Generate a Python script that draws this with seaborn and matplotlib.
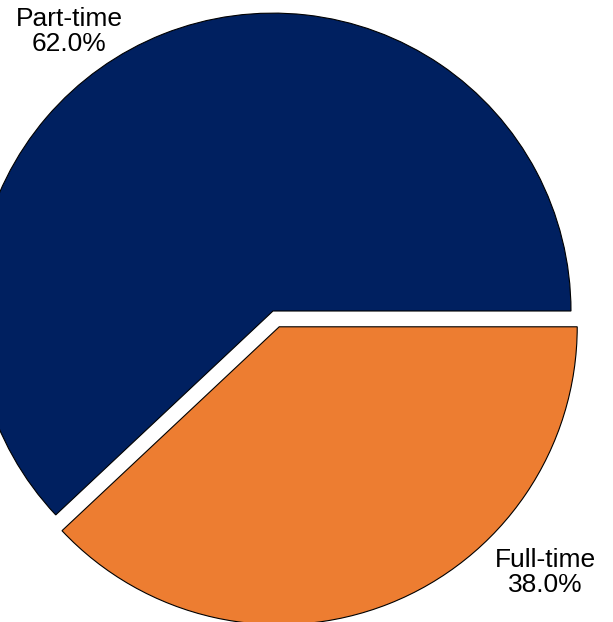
import matplotlib
matplotlib.use("Agg")
import matplotlib.pyplot as plt
import seaborn as sns

# Employment split
categories = ["Part-time", "Full-time"]
shares = [62.0, 38.0]
colors = ["#002060", "#ED7D31"]
explode = [0.0, 0.057]

sns.set_theme(style="white")
plt.rcParams["font.family"] = ["Liberation Sans", "DejaVu Sans"]

fig = plt.figure(figsize=(6.13, 6.22), dpi=100)
ax = fig.add_axes([0, 0, 1, 1])

wedges, _ = ax.pie(
    shares,
    colors=colors,
    explode=explode,
    startangle=0,
    counterclock=True,
    wedgeprops=dict(edgecolor="black", linewidth=0.8),
)

ax.set_xlim(-0.916, 1.141)
ax.set_ylim(-1.044, 1.044)
ax.set_aspect("auto")
ax.axis("off")

# Category labels with percentages
label_pos = [(-0.683, 0.938), (0.913, -0.878)]
for name, val, (x, y) in zip(categories, shares, label_pos):
    ax.text(x, y, f"{name}\n{val:.1f}%", ha="center", va="center",
            fontsize=19, color="black", linespacing=1.08)

fig.savefig("out.png", dpi=100)
